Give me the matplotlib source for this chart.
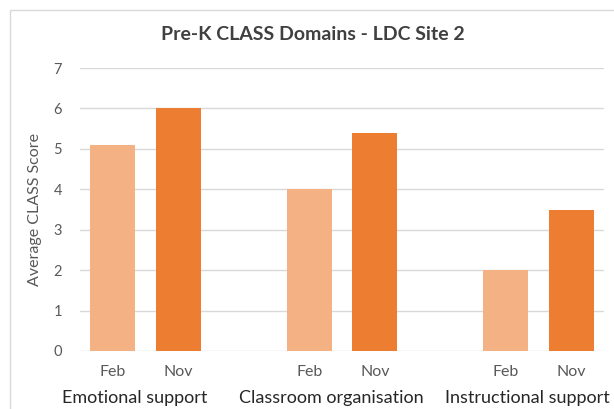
import matplotlib.pyplot as plt
from matplotlib.patches import Rectangle

# chart data
domains = ['Emotional support', 'Classroom organisation', 'Instructional support']
months = ['Feb', 'Nov']
feb_scores = [5.1, 4.0, 2.0]
nov_scores = [6.0, 5.4, 3.5]

plt.rcParams['font.family'] = ['Lato', 'DejaVu Sans']

fig = plt.figure(figsize=(6.14, 4.09), dpi=100)
W, H = 614, 409
ax = fig.add_axes([80 / W, 1 - 351 / H, (604 - 80) / W, (351 - 68) / H])

# outer frame of the chart
fig.patches.append(Rectangle((10 / W, -0.05), 1.0, 1 - 10 / H + 0.05, transform=fig.transFigure,
                             fill=False, edgecolor='#d9d9d9', linewidth=1))

group_gap = 3
feb_x = [i * group_gap for i in range(len(domains))]
nov_x = [x + 1 for x in feb_x]
bw = 0.69

ax.bar(feb_x, feb_scores, width=bw, color='#f4b183', zorder=3)
ax.bar(nov_x, nov_scores, width=bw, color='#ed7d31', zorder=3)

ax.set_xlim(-0.5, 7.5)
ax.set_ylim(0, 7)
ax.set_yticks(range(0, 8))
ax.yaxis.grid(True, color='#d9d9d9', linewidth=1, zorder=0)
for s in ax.spines.values():
    s.set_visible(False)
ax.tick_params(axis='y', length=0, labelsize=10.5, labelcolor='#595959', pad=13)
ax.tick_params(axis='x', length=0)
ax.set_xticks(feb_x + nov_x)
ax.set_xticklabels([months[0]] * 3 + [months[1]] * 3, fontsize=11.5, color='#595959')
ax.tick_params(axis='x', pad=10)

for i, d in enumerate(domains):
    ax.text(feb_x[i] + 0.33, -0.167, d, transform=ax.get_xaxis_transform(),
            ha='center', va='center', fontsize=13, color='#262626')

ax.set_ylabel('Average CLASS Score', fontsize=11.5, color='#595959', labelpad=8)
fig.text(313 / W, 1 - 35 / H, 'Pre-K CLASS Domains - LDC Site 2', ha='center', va='center',
         fontsize=14, fontweight='bold', color='#404040')

fig.savefig('out.png', dpi=100)
